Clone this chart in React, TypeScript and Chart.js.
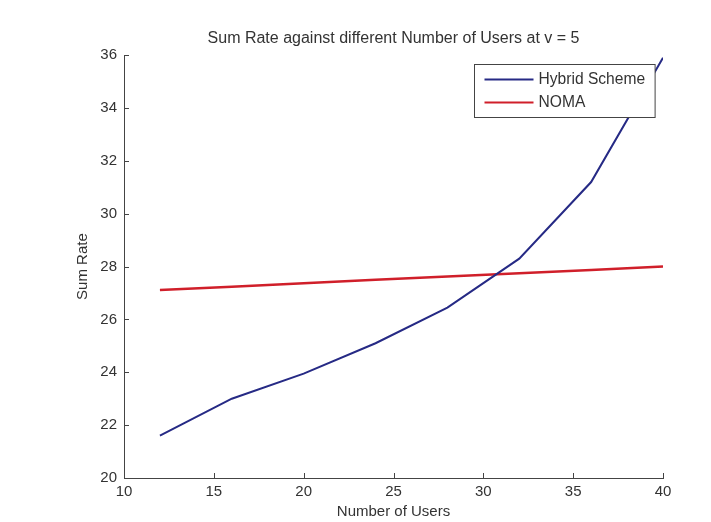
import React, { useEffect, useRef } from "react";
import { Chart, registerables } from "chart.js";

Chart.register(...registerables);

const users = [12, 16, 20, 24, 28, 32, 36, 40];
const hybridScheme = [21.6, 23.0, 23.95, 25.1, 26.45, 28.3, 31.2, 35.9];
const noma = [27.11, 27.24, 27.37, 27.5, 27.63, 27.75, 27.87, 28.0];
const seriesLabels = ["Hybrid Scheme", "NOMA"];
const seriesColors = ["#262a85", "#d01f2a"];
const xTicks = { min: 10, max: 40, step: 5 };
const yTicks = { min: 20, max: 36, step: 2 };
const titleText = "Sum Rate against different Number of Users at v = 5";
const xTitle = "Number of Users";
const yTitle = "Sum Rate";

const FONT = "'Liberation Sans', Arial, Helvetica, sans-serif";
const TEXT = "#333333";
const AXIS = "#444444";

const innerTicks = {
  id: "innerTicks",
  afterDatasetsDraw(chart: any) {
    const { ctx } = chart;
    const xs = chart.scales.x;
    const ys = chart.scales.y;
    const area = chart.chartArea;
    ctx.save();
    ctx.strokeStyle = AXIS;
    ctx.lineWidth = 1;
    ctx.beginPath();
    xs.ticks.forEach((t: any) => {
      const px = Math.round(xs.getPixelForValue(t.value)) + 0.5;
      ctx.moveTo(px, area.bottom);
      ctx.lineTo(px, area.bottom - 5);
    });
    ys.ticks.forEach((t: any) => {
      const py = Math.round(ys.getPixelForValue(t.value)) + 0.5;
      ctx.moveTo(area.left, py);
      ctx.lineTo(area.left + 5, py);
    });
    ctx.stroke();
    ctx.restore();
  },
};

const boxLegend = {
  id: "boxLegend",
  afterDraw(chart: any) {
    const { ctx } = chart;
    const area = chart.chartArea;
    const ds = chart.data.datasets;
    ctx.save();
    ctx.font = `15.6px ${FONT}`;
    let maxW = 0;
    ds.forEach((d: any) => {
      maxW = Math.max(maxW, ctx.measureText(d.label).width);
    });
    const padL = 10;
    const lineLen = 49;
    const gap = 5;
    const padR = 10;
    const w = padL + lineLen + gap + maxW + padR;
    const h = 53;
    const right = area.right - 8;
    const left = Math.round(right - w) + 0.5;
    const top = Math.round(area.top + 9) + 0.5;
    ctx.fillStyle = "#ffffff";
    ctx.fillRect(left, top, w, h);
    ctx.strokeStyle = AXIS;
    ctx.lineWidth = 1;
    ctx.strokeRect(left, top, w, h);
    ds.forEach((d: any, i: number) => {
      const cy = top + 15 + i * 23;
      ctx.strokeStyle = d.borderColor;
      ctx.lineWidth = 2;
      ctx.beginPath();
      ctx.moveTo(left + padL, cy);
      ctx.lineTo(left + padL + lineLen, cy);
      ctx.stroke();
      ctx.fillStyle = TEXT;
      ctx.textBaseline = "middle";
      ctx.textAlign = "left";
      ctx.fillText(d.label, left + padL + lineLen + gap, cy);
    });
    ctx.restore();
  },
};

export default function App() {
  const ref = useRef<HTMLCanvasElement | null>(null);

  useEffect(() => {
    if (!ref.current) return;
    const mk = (vals: number[]) => users.map((u, i) => ({ x: u, y: vals[i] }));
    const chart = new Chart(ref.current, {
      type: "line",
      data: {
        datasets: [
          {
            label: seriesLabels[0],
            data: mk(hybridScheme),
            borderColor: seriesColors[0],
            backgroundColor: seriesColors[0],
            borderWidth: 2,
            pointRadius: 0,
            tension: 0,
          },
          {
            label: seriesLabels[1],
            data: mk(noma),
            borderColor: seriesColors[1],
            backgroundColor: seriesColors[1],
            borderWidth: 2.5,
            pointRadius: 0,
            tension: 0,
          },
        ],
      },
      options: {
        responsive: false,
        animation: false,
        devicePixelRatio: 1,
        layout: { padding: { left: 0, right: 48, top: 0, bottom: 0 } },
        plugins: {
          legend: { display: false },
          tooltip: { enabled: false },
          title: {
            display: true,
            text: titleText,
            fullSize: false,
            color: TEXT,
            font: { family: FONT, size: 16, weight: "normal" },
            padding: { top: 29, bottom: 7 },
          },
        },
        scales: {
          x: {
            type: "linear",
            min: xTicks.min,
            max: xTicks.max,
            ticks: {
              stepSize: xTicks.step,
              color: TEXT,
              font: { family: FONT, size: 15 },
              padding: 5,
              maxRotation: 0,
            },
            grid: { display: false, drawTicks: false },
            border: { display: true, color: AXIS, width: 1 },
            title: {
              display: true,
              text: xTitle,
              color: TEXT,
              font: { family: FONT, size: 15 },
              padding: { top: 0, bottom: 1 },
            },
            afterFit: (s: any) => {
              s.height = 44;
            },
          },
          y: {
            type: "linear",
            min: yTicks.min,
            max: yTicks.max,
            ticks: {
              stepSize: yTicks.step,
              color: TEXT,
              font: { family: FONT, size: 15 },
              padding: 7,
            },
            grid: { display: false, drawTicks: false },
            border: { display: true, color: AXIS, width: 1 },
            title: {
              display: true,
              text: yTitle,
              color: TEXT,
              font: { family: FONT, size: 15 },
              padding: { top: 74, bottom: 0 },
            },
            afterFit: (s: any) => {
              s.width = 124;
            },
          },
        },
      },
      plugins: [innerTicks, boxLegend],
    });
    return () => chart.destroy();
  }, []);

  return (
    <div style={{ position: "absolute", left: 0, top: 0, width: 711, height: 522, background: "#ffffff" }}>
      <canvas ref={ref} width={711} height={522} style={{ width: 711, height: 522, display: "block" }} />
    </div>
  );
}
